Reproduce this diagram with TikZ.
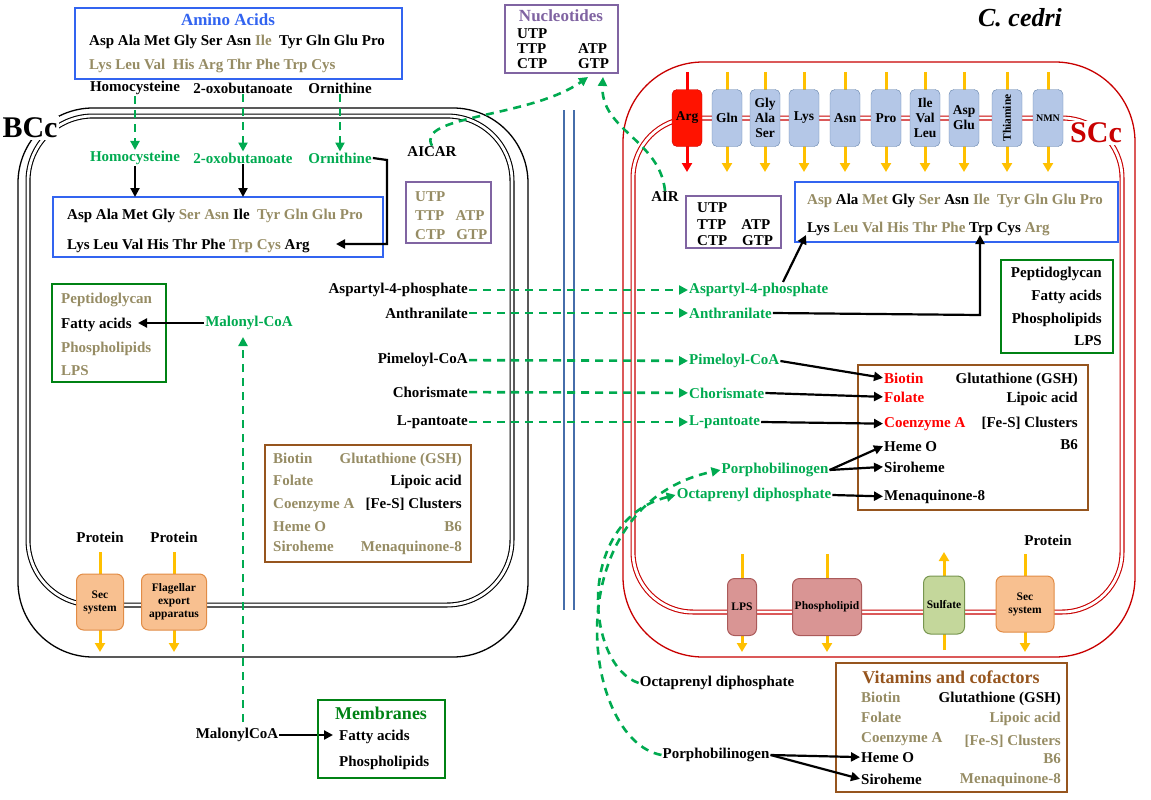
\documentclass[tikz,border=0pt]{standalone}
\usepackage{fontspec}
\setmainfont{Liberation Serif}
\usetikzlibrary{arrows.meta}
\definecolor{olv}{RGB}{150,140,100}
\definecolor{grn}{RGB}{0,170,80}
\definecolor{bxgreen}{RGB}{0,130,20}
\definecolor{blu}{RGB}{50,100,240}
\definecolor{pur}{RGB}{128,100,162}
\definecolor{brn}{RGB}{150,85,30}
\definecolor{scred}{RGB}{200,0,0}
\definecolor{tpblue}{RGB}{180,199,231}
\definecolor{tpborder}{RGB}{100,130,170}
\definecolor{yel}{RGB}{255,192,0}
\definecolor{orf}{RGB}{248,192,144}
\definecolor{ord}{RGB}{225,140,70}
\definecolor{pinkf}{RGB}{217,149,148}
\definecolor{pinkd}{RGB}{170,90,90}
\definecolor{sulf}{RGB}{196,215,155}
\definecolor{suld}{RGB}{120,150,80}
\definecolor{mblue}{RGB}{70,110,170}
\newcommand\ol[1]{\textcolor{olv}{#1}}
\newcommand\rd[1]{\textcolor{red}{#1}}
\begin{document}
\begin{tikzpicture}[x=1pt,y=-1pt,
  every node/.style={font=\fontsize{15}{17}\selectfont\bfseries, inner sep=1pt},
  t/.style={anchor=base west},
  g/.style={text=grn},
  box/.style={draw, line width=2.4pt, fill=none},
  gd/.style={draw=grn, line width=2.6pt, dash pattern=on 8pt off 6pt, -{Triangle[length=9pt,width=9pt]}},
  ba/.style={draw=black, line width=2.2pt, -{Triangle[length=9pt,width=9pt]}},
  ya/.style={draw=yel, line width=3pt, -{Triangle[length=9pt,width=10pt]}},
  tp/.style={draw=tpborder, fill=tpblue, rounded corners=5pt, minimum width=30pt, minimum height=57pt, font=\fontsize{13.5}{15}\selectfont\bfseries, align=center, inner sep=0pt},
  sm/.style={rounded corners=7pt, align=center, font=\fontsize{11.5}{13}\selectfont\bfseries, inner sep=0pt, line width=1pt}
]
\useasboundingbox (0,0) rectangle (1151,800);
% ---------------- BCc cell
\draw[line width=1.3pt] (18,108) [rounded corners=75pt] -- (18,657) -- (528,657) -- (528,108) -- cycle;
\draw[line width=1.1pt, double=white, double distance=2.8pt] (28,116) [rounded corners=65pt] -- (28,605) -- (512,605) -- (512,116) -- cycle;
\node[fill=white, inner sep=2pt, font=\fontsize{30}{32}\selectfont\bfseries] (bcc) at (30,128) {BCc};
% ---------------- SCc cell
\draw[scred, line width=1.3pt] (623,62) [rounded corners=80pt] -- (623,657) -- (1135,657) -- (1135,62) -- cycle;
\draw[scred, line width=1.1pt, double=white, double distance=2.8pt] (633,118) [rounded corners=60pt] -- (633,612) -- (1122,612) -- (1122,118) -- cycle;
\node[fill=white, inner sep=2pt, text=scred, font=\fontsize{30}{32}\selectfont\bfseries] (scc) at (1096,133) {SCc};
\node[font=\fontsize{26}{28}\selectfont\bfseries\itshape] (ced) at (1020,18) {C. cedri};
% middle blue double line
\draw[mblue, line width=1.1pt] (564,110) -- (564,610);
\draw[mblue, line width=1.1pt] (574,110) -- (574,610);

% ---------------- Amino acids top
\draw[box, draw=blu] (75,8) rectangle (402,79);
\node[text=blu, font=\fontsize{17}{19}\selectfont\bfseries] (aat) at (228,20) {Amino Acids};
\node[t] (aa1) at (88,46) {Asp Ala Met Gly Ser Asn \ol{Ile} \ Tyr Gln Glu Pro};
\node[t] (aa2) at (88,70) {\ol{Lys Leu Val \ His Arg Thr Phe Trp Cys}};
\node (hc0) at (135,88) {Homocysteine};
\node (ob0) at (243,88) {2-oxobutanoate};
\node (or0) at (340,88) {Ornithine};
\node[g] (hc1) at (135,158) {Homocysteine};
\node[g] (ob1) at (243,158) {2-oxobutanoate};
\node[g] (or1) at (340,158) {Ornithine};
\draw[gd] (hc0) -- (hc1);
\draw[gd] (ob0) -- (ob1);
\draw[gd] (or0) -- (or1);
% inner aa box
\draw[box, draw=blu] (53,197) rectangle (383,257);
\node[t] (ba1) at (66,219) {Asp Ala Met Gly \ol{Ser Asn} Ile \ \ol{Tyr Gln Glu Pro}};
\node[t] (ba2) at (66,249) {Lys Leu Val His Thr Phe \ol{Trp Cys} Arg};
\coordinate (bh) at (135,197);
\coordinate (bo) at (243,197);
\coordinate (barg) at (336,244);
\draw[ba] (hc1) -- (bh);
\draw[ba] (ob1) -- (bo);
\draw[ba] (or1.east) -- (387,160) -- (387,244) -- (barg);

% nucleotides
\draw[box, draw=pur] (406,182) rectangle (491,243);
\node[t] (bu1) at (414,201) {\ol{UTP}};
\node[t] (bu2) at (414,220) {\ol{TTP \ \ ATP}};
\node[t] (bu3) at (414,239) {\ol{CTP \ \ GTP}};
\node (aicar) at (432,152) {AICAR};
\draw[box, draw=pur] (505,5) rectangle (618,73);
\node[text=pur, font=\fontsize{17}{19}\selectfont\bfseries] (nt) at (561,16) {Nucleotides};
\node[t] (n1) at (516,39) {UTP};
\node[t] (n2) at (516,54) {TTP};
\node[t] (n3) at (516,69) {CTP};
\node[t] (n4) at (577,54) {ATP};
\node[t] (n5) at (577,69) {GTP};
\coordinate (nA) at (588,77);
\coordinate (nB) at (603,77);
\node (air) at (665,197) {AIR};
\draw[gd] (aicar.north) .. controls (415,115) and (530,118) .. (nA);
\draw[gd] (air.north) .. controls (660,140) and (600,130) .. (nB);

% left green box
\draw[box, draw=bxgreen] (52,284) rectangle (166,382);
\node[t] (lp1) at (60,303) {\ol{Peptidoglycan}};
\node[t] (lp2) at (60,328) {Fatty acids};
\node[t] (lp3) at (60,352) {\ol{Phospholipids}};
\node[t] (lp4) at (60,375) {\ol{LPS}};
\node[g] (mal) at (249,323) {Malonyl-CoA};
\coordinate (fa) at (138,323);
\draw[ba] (mal) -- (fa);
\node (mal2) at (237,735) {MalonylCoA};
\draw[gd] (243,722) -- (243,337);

% left brown box
\draw[box, draw=brn] (265,445) rectangle (471,562);
\node[t] (lb1) at (272,463) {\ol{Biotin}};
\node[t] (lb2) at (272,485) {\ol{Folate}};
\node[t] (lb3) at (272,508) {\ol{Coenzyme A}};
\node[t] (lb4) at (272,531) {\ol{Heme O}};
\node[t] (lb5) at (272,551) {\ol{Siroheme}};
\node[anchor=base east] (rb1) at (463,463) {\ol{Glutathione (GSH)}};
\node[anchor=base east] (rb2) at (463,485) {Lipoic acid};
\node[anchor=base east] (rb3) at (463,508) {[Fe-S] Clusters};
\node[anchor=base east] (rb4) at (463,531) {\ol{B6}};
\node[anchor=base east] (rb5) at (463,551) {\ol{Menaquinone-8}};

% protein secretion left
\node (pr1) at (100,537) {Protein};
\node (pr2) at (174,537) {Protein};
\draw[ya] (100,552) -- (100,652);
\draw[ya] (174,552) -- (174,652);
\node[sm, draw=ord, fill=orf, minimum width=47pt, minimum height=56pt] (sec1) at (100,602) {Sec\\system};
\node[sm, draw=ord, fill=orf, minimum width=65pt, minimum height=56pt] (flg) at (174,602) {Flagellar\\export\\apparatus};

% membranes
\draw[ba] (mal2.east) -- (333,735);
\draw[box, draw=bxgreen] (318,700) rectangle (445,778);
\node[text=bxgreen, font=\fontsize{18}{20}\selectfont\bfseries] (mem) at (381,713) {Membranes};
\node[t] (m1) at (338,740) {Fatty acids};
\node[t] (m2) at (338,766) {Phospholipids};

% transfer labels
\node[anchor=east] (a4l) at (469,290) {Aspartyl-4-phosphate};
\node[anchor=east] (anl) at (469,313) {Anthranilate};
\node[anchor=east] (pml) at (469,360) {Pimeloyl-CoA};
\node[anchor=east] (chl) at (469,392) {Chorismate};
\node[anchor=east] (ptl) at (469,422) {L-pantoate};
\node[anchor=west, g] (a4r) at (688,290) {Aspartyl-4-phosphate};
\node[anchor=west, g] (anr) at (688,313) {Anthranilate};
\node[anchor=west, g] (pmr) at (688,361) {Pimeloyl-CoA};
\node[anchor=west, g] (chr) at (688,393) {Chorismate};
\node[anchor=west, g] (ptr) at (688,422) {L-pantoate};
\draw[gd] (a4l) -- (a4r);
\draw[gd] (anl) -- (anr);
\draw[gd] (pml) -- (pmr);
\draw[gd] (chl) -- (chr);
\draw[gd] (ptl) -- (ptr);

% ---------------- SCc interior
\foreach \x/\lab/\nm in {727/Gln/t1, 765/{Gly\\Ala\\Ser}/t2, 804/Lys/t3, 845/Asn/t4, 886/Pro/t5, 925/{Ile\\Val\\Leu}/t6, 964/{Asp\\Glu}/t7}{
  \draw[ya] (\x,72) -- (\x,172);
  \node[tp] (\nm) at (\x,118) {\lab};
}
\draw[ya] (1007,72) -- (1007,172);
\node[tp] (t8) at (1007,118) {};
\node[rotate=90, font=\fontsize{11.5}{12}\selectfont\bfseries] (t8l) at (1007,118) {Thiamine};
\draw[ya] (1048,72) -- (1048,172);
\node[tp, font=\fontsize{10}{11}\selectfont\bfseries] (t9) at (1048,118) {NMN};
\draw[red, line width=3pt, -{Triangle[length=9pt,width=10pt]}] (687,72) -- (687,172);
\node[tp, draw=red!80!black, fill=red!85!orange] (targ) at (687,118) {Arg};

\draw[box, draw=pur] (686,196) rectangle (781,248);
\node[t] (su1) at (696,212) {UTP};
\node[t] (su2) at (696,229) {TTP \ \ \ ATP};
\node[t] (su3) at (696,245) {CTP \ \ \ GTP};

\draw[box, draw=blu] (795,182) rectangle (1118,242);
\node[t] (sa1) at (806,204) {\ol{Asp} Ala \ol{Met} Gly \ol{Ser} Asn \ol{Ile \ Tyr Gln Glu Pro}};
\node[t] (sa2) at (806,232) {Lys \ol{Leu Val His Thr Phe} Trp Cys \ol{Arg}};
\coordinate (slys) at (806,235);
\coordinate (strp) at (980,235);
\draw[ba] (783,282) -- (slys);
\draw[ba] (anr.east) -- (980,315) -- (strp);

\draw[box, draw=bxgreen] (1001,260) rectangle (1113,353);
\node[anchor=base east] (sp1) at (1103,277) {Peptidoglycan};
\node[anchor=base east] (sp2) at (1103,300) {Fatty acids};
\node[anchor=base east] (sp3) at (1103,323) {Phospholipids};
\node[anchor=base east] (sp4) at (1103,345) {LPS};

\draw[box, draw=brn] (858,365) rectangle (1088,510);
\node[t] (sb1) at (883,383) {\rd{Biotin}};
\node[t] (sb2) at (883,402) {\rd{Folate}};
\node[t] (sb3) at (883,427) {\rd{Coenzyme A}};
\node[t] (sb4) at (883,451) {Heme O};
\node[t] (sb5) at (883,472) {Siroheme};
\node[t] (sb6) at (883,500) {Menaquinone-8};
\node[anchor=base east] (sr1) at (1079,383) {Glutathione (GSH)};
\node[anchor=base east] (sr2) at (1079,402) {Lipoic acid};
\node[anchor=base east] (sr3) at (1079,427) {[Fe-S] Clusters};
\node[anchor=base east] (sr4) at (1079,449) {B6};
\node[g] (porg) at (775,470) {Porphobilinogen};
\node[g] (octg) at (754,495) {Octaprenyl diphosphate};
\draw[ba] (pmr.east) -- (sb1.west);
\draw[ba] (chr.east) -- (sb2.west);
\draw[ba] (ptr.east) -- (sb3.west);
\draw[ba] (porg.east) -- (sb4.west);
\draw[ba] (porg.east) -- (sb5.west);
\draw[ba] (octg.east) -- (sb6.west);

% bottom transporters
\draw[ya] (742,554) -- (742,652);
\draw[ya] (827,554) -- (827,652);
\draw[ya] (944,650) -- (944,552);
\draw[ya] (1025,554) -- (1025,652);
\node[sm, draw=pinkd, fill=pinkf, minimum width=29pt, minimum height=57pt] (blps) at (742,607) {LPS};
\node[sm, draw=pinkd, fill=pinkf, minimum width=69pt, minimum height=57pt] (bph) at (827,607) {Phospholipid};
\node[sm, draw=suld, fill=sulf, minimum width=41pt, minimum height=58pt] (bsu) at (944,605) {Sulfate};
\node[sm, draw=ord, fill=orf, minimum width=58pt, minimum height=56pt] (bsec) at (1025,604) {Sec\\system};
\node (pr3) at (1048,540) {Protein};

% vitamins box bottom
\draw[box, draw=brn] (836,663) rectangle (1067,792);
\node[text=brn, font=\fontsize{18}{20}\selectfont\bfseries] (vt) at (951,677) {Vitamins and cofactors};
\node[t] (v1) at (860,702) {\ol{Biotin}};
\node[t] (v2) at (860,722) {\ol{Folate}};
\node[t] (v3) at (860,742) {\ol{Coenzyme A}};
\node[t] (v4) at (860,762) {Heme O};
\node[t] (v5) at (860,784) {Siroheme};
\node[anchor=base east] (w1) at (1062,702) {Glutathione (GSH)};
\node[anchor=base east] (w2) at (1062,722) {\ol{Lipoic acid}};
\node[anchor=base east] (w3) at (1062,745) {\ol{[Fe-S] Clusters}};
\node[anchor=base east] (w4) at (1062,763) {\ol{B6}};
\node[anchor=base east] (w5) at (1062,783) {\ol{Menaquinone-8}};
\node (porb) at (716,755) {Porphobilinogen};
\node (octb) at (717,683) {Octaprenyl diphosphate};
\draw[ba] (porb.east) -- (v4.west);
\draw[ba] (porb.east) -- (v5.west);
\draw[gd] (octb.west) .. controls (585,665) and (575,520) .. (octg.west);
\draw[gd] (porb.west) .. controls (580,740) and (555,505) .. (porg.west);
\end{tikzpicture}
\end{document}
